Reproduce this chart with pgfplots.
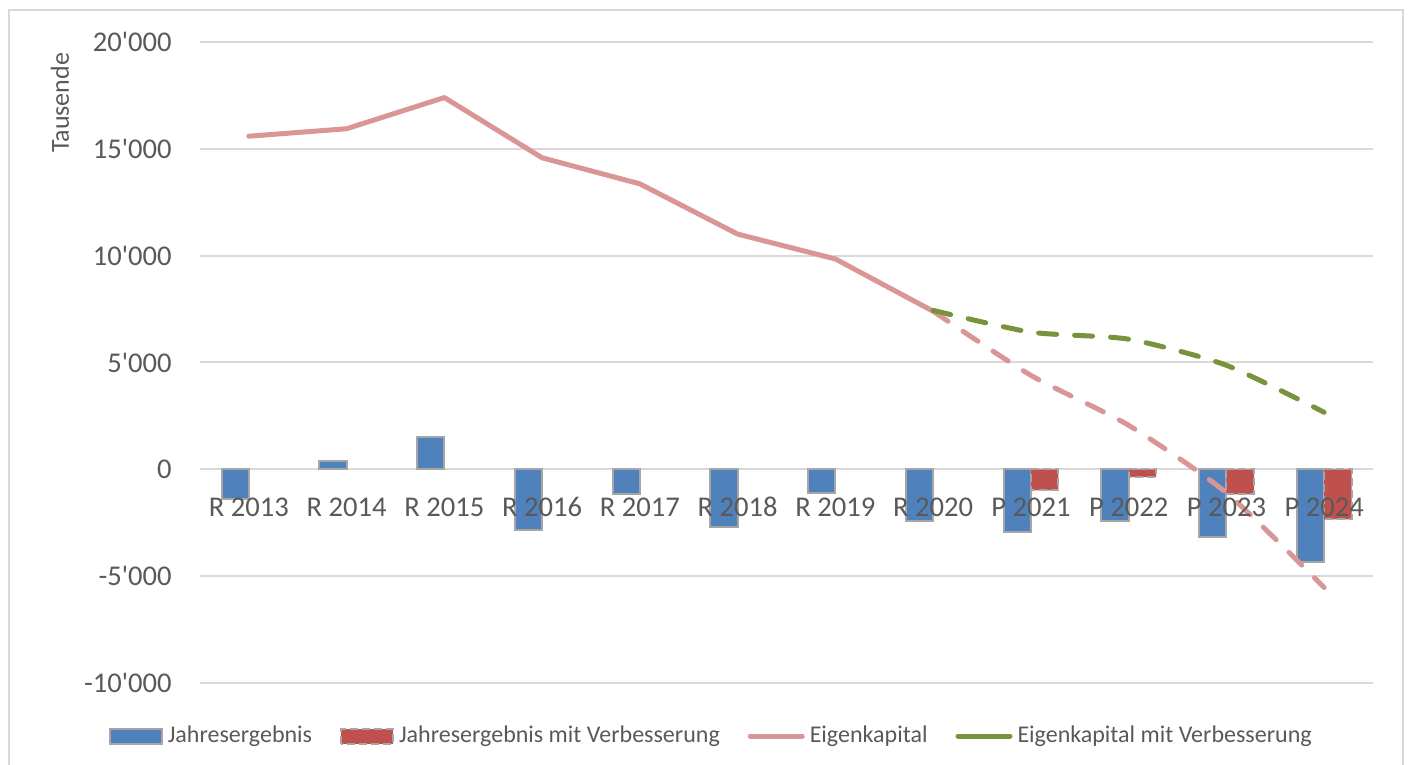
\documentclass[border=0pt]{standalone}
\usepackage{pgfplots}
\pgfplotsset{compat=1.18}
\usepackage{fontspec}
\setmainfont{Carlito}
\definecolor{txt}{HTML}{595959}
\definecolor{gridc}{HTML}{D9D9D9}
\definecolor{barblue}{HTML}{4F81BD}
\definecolor{barred}{HTML}{C0504D}
\definecolor{bordergray}{HTML}{A6A6A6}
\definecolor{pinkline}{HTML}{D99694}
\definecolor{greenline}{HTML}{77933C}
\pgfplotsset{
  common/.style={
    at={(100pt,41pt)}, anchor=south west,
    scale only axis, width=586.5pt, height=320.5pt,
    xmin=-0.5, xmax=11.5, ymin=-10000, ymax=20000,
    enlargelimits=false,
    axis x line=middle,
    major tick length=0pt,
    xtick={0,...,11},
    tick label style={font=\fontsize{14.3}{17}\selectfont, text=txt, inner sep=0pt},
    xticklabel style={anchor=center, yshift=-19pt},
  }
}
\begin{document}
\begin{tikzpicture}
\useasboundingbox (0pt,0pt) rectangle (704pt,382.5pt);
\draw[gridc, line width=1pt] (4.5pt,-5pt) rectangle (701.5pt,377.5pt);
\begin{axis}[
  common,
  axis y line=left,
  x axis line style={-, draw=gridc, line width=1pt},
  y axis line style={draw=none},
  xticklabels={},
  ytick={-10000,-5000,0,5000,10000,15000,20000},
  scaled y ticks=false,
  /pgf/number format/fixed,
  /pgf/number format/1000 sep={\textquotesingle},
  /pgf/number format/assume math mode=true,
  ymajorgrids, grid style={gridc, line width=1pt},
  yticklabel style={anchor=east, xshift=-14pt},
  ylabel={Tausende},
  every axis y label/.style={at={(axis description cs:-0.1194,0.905)}, rotate=90, anchor=center, font=\fontsize{13}{15}\selectfont, text=txt},
  legend columns=4,
  legend style={at={(axis description cs:0.435,-0.0827)}, anchor=center, draw=none, fill=none,
    font=\fontsize{12}{14}\selectfont, text=txt,
    nodes={inner sep=0pt},
    /tikz/every odd column/.append style={column sep=2.5pt},
    /tikz/every even column/.append style={column sep=14pt}},
]
\addplot[ybar, bar width=0.28, bar shift=-0.14, fill=barblue, draw=bordergray, line width=1pt,
  legend image code/.code={\draw[solid, fill=barblue, draw=bordergray, line width=1pt] (0pt,-3.75pt) rectangle (26pt,3.75pt);}]
  coordinates {(0,-1400) (1,370) (2,1500) (3,-2850) (4,-1170) (5,-2720) (6,-1120) (7,-2400) (8,-2950) (9,-2400) (10,-3180) (11,-4350)};
\addlegendentry{Jahresergebnis}
\addplot[ybar, bar width=0.28, bar shift=0.14, fill=barred, draw=bordergray, line width=1pt, dash pattern=on 4pt off 2pt,
  legend image code/.code={\draw[fill=barred, draw=bordergray, line width=1pt, dash pattern=on 4pt off 2pt] (0pt,-3.75pt) rectangle (26pt,3.75pt);}]
  coordinates {(8,-980) (9,-370) (10,-1170) (11,-2340)};
\addlegendentry{Jahresergebnis mit Verbesserung}
\addplot[pinkline, line width=2.5pt, line cap=round, line join=round,
  legend image code/.code={\draw[solid, pinkline, line width=2.5pt, line cap=round] (0pt,0pt) -- (26pt,0pt);}]
  coordinates {(0,15590) (1,15940) (2,17400) (3,14580) (4,13360) (5,11010) (6,9845) (7,7400)};
\addlegendentry{Eigenkapital}
\addplot[pinkline, line width=2.5pt, line cap=round, dash pattern=on 9pt off 9pt, smooth, tension=0.4, forget plot]
  coordinates {(7,7400) (8,4400) (9,2060) (10,-1100) (11,-5530)};
\addplot[greenline, line width=2.5pt, line cap=round, dash pattern=on 9pt off 9pt, smooth, tension=0.4,
  legend image code/.code={\draw[solid, greenline, line width=2.5pt, line cap=round] (0pt,0pt) -- (26pt,0pt);}]
  coordinates {(7,7440) (8,6420) (9,6090) (10,4870) (11,2670)};
\addlegendentry{Eigenkapital mit Verbesserung}
\end{axis}
\begin{axis}[
  common,
  axis y line=none,
  x axis line style={draw=none},
  ytick=\empty,
  xticklabels={R 2013,R 2014,R 2015,R 2016,R 2017,R 2018,R 2019,R 2020,P 2021,P 2022,P 2023,P 2024},
]
\end{axis}
\end{tikzpicture}
\end{document}
